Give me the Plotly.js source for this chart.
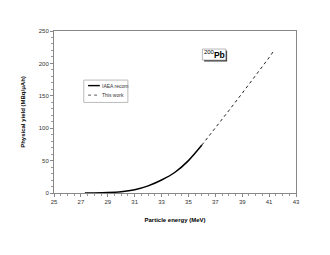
<!DOCTYPE html>
<html><head><meta charset="utf-8">
<script src="https://cdn.plot.ly/plotly-3.0.1.min.js"></script>
<style>html,body{margin:0;padding:0;background:#fff}#c{width:330px;height:255px}</style>
</head><body><div id="c"></div>
<script>
const iaeaEnergy = [27.3, 28, 29, 30, 31, 32, 33, 34, 35, 36];
const iaeaYield  = [0, 0.1, 0.6, 1.9, 5, 11, 20, 32, 50, 74];
const workEnergy = [36, 37, 38, 39, 40, 41, 41.4];
const workYield  = [74, 100, 127, 154, 181, 209, 221];
const xTicks = [25, 27, 29, 31, 33, 35, 37, 39, 41, 43];
const yTicks = [0, 50, 100, 150, 200, 250];
const F = 'Liberation Sans, Arial, sans-serif';
const data = [
  {x: iaeaEnergy, y: iaeaYield, type: 'scatter', mode: 'lines', name: 'IAEA recom',
   line: {color: '#000', width: 1.5, shape: 'spline', smoothing: 0.8}, showlegend: false},
  {x: workEnergy, y: workYield, type: 'scatter', mode: 'lines', name: 'This work',
   line: {color: '#222', width: 1, dash: 'dot'}, showlegend: false}
];
const L = 54.3, R = 295.7, T = 31, B = 192.7;
const px = v => (v - L) / (R - L), py = v => (B - v) / (B - T);
const layout = {
  width: 330, height: 255,
  margin: {l: L, r: 330 - R, t: T, b: 255 - B, pad: 0},
  paper_bgcolor: '#fff', plot_bgcolor: '#fff',
  font: {family: F, size: 6, color: '#000'},
  xaxis: {range: [25, 43], tickvals: xTicks, ticktext: xTicks.map(String),
    showgrid: false, zeroline: false, showline: true, linecolor: '#888', linewidth: 1, mirror: true,
    ticks: 'outside', ticklen: 3, tickcolor: '#888', tickfont: {size: 6, family: F, color: '#333'},
    minor: {dtick: 0.5, ticks: 'outside', ticklen: 2, tickcolor: '#999', showgrid: false},
    title: {text: '<b>Particle energy (MeV)</b>', font: {size: 6, family: F}, standoff: 13}},
  yaxis: {range: [0, 250], tickvals: yTicks, ticktext: yTicks.map(String),
    showgrid: false, zeroline: false, showline: true, linecolor: '#888', linewidth: 1, mirror: true,
    ticks: 'outside', ticklen: 3, tickcolor: '#888', tickfont: {size: 6, family: F, color: '#333'},
    minor: {dtick: 10, ticks: 'outside', ticklen: 2, tickcolor: '#999', showgrid: false},
    title: {text: '<b>Physical yield (MBq/μAh)</b>', font: {size: 6, family: F}, standoff: 12}},
  shapes: [
    {type: 'rect', xref: 'paper', yref: 'paper', x0: px(84), x1: px(128), y0: py(102.3), y1: py(80),
     line: {color: '#bbb', width: 1}, fillcolor: '#fff'},
    {type: 'line', xref: 'paper', yref: 'paper', x0: px(88.3), x1: px(100), y0: py(85.5), y1: py(85.5),
     line: {color: '#000', width: 1.4}},
    {type: 'line', xref: 'paper', yref: 'paper', x0: px(88.3), x1: px(100), y0: py(95), y1: py(95),
     line: {color: '#333', width: 0.8, dash: 'dot'}},
    {type: 'rect', xref: 'paper', yref: 'paper', x0: px(204), x1: px(227), y0: py(61.5), y1: py(50.5),
     line: {width: 0}, fillcolor: '#444'},
    {type: 'rect', xref: 'paper', yref: 'paper', x0: px(202.3), x1: px(225.7), y0: py(60), y1: py(49),
     line: {color: '#888', width: 0.6}, fillcolor: '#fff'}
  ],
  annotations: [
    {xref: 'paper', yref: 'paper', x: px(100.5), y: py(85.5), xanchor: 'left', yanchor: 'middle',
     text: 'IAEA recom', showarrow: false, font: {size: 5, family: F, color: '#333'}},
    {xref: 'paper', yref: 'paper', x: px(100.5), y: py(95), xanchor: 'left', yanchor: 'middle',
     text: 'This work', showarrow: false, font: {size: 5, family: F, color: '#333'}},
    {xref: 'paper', yref: 'paper', x: px(214), y: py(54.5), xanchor: 'center', yanchor: 'middle',
     text: '<sup>200</sup><b>Pb</b>', showarrow: false, font: {size: 8.5, family: F, color: '#000'}}
  ]
};
Plotly.newPlot('c', data, layout, {staticPlot: true, displayModeBar: false});
</script></body></html>
